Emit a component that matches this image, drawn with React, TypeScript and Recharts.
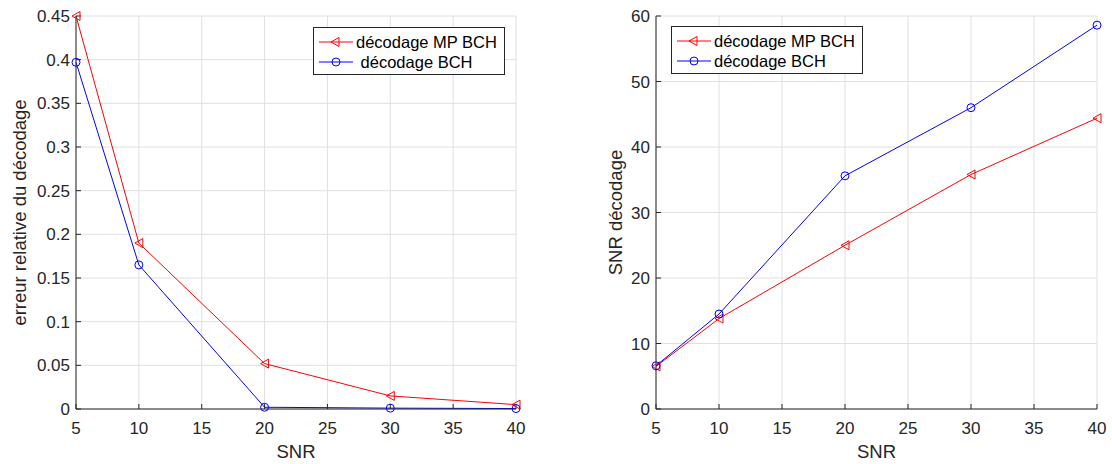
import { LineChart, Line, XAxis, YAxis, CartesianGrid, Legend } from 'recharts'

const snr = [5, 10, 20, 30, 40]
const erreurMpBch = [0.45, 0.19, 0.052, 0.015, 0.005]
const erreurBch = [0.397, 0.165, 0.002, 0.001, 0.0005]
const snrDecodageMpBch = [6.5, 13.8, 25.0, 35.8, 44.4]
const snrDecodageBch = [6.6, 14.5, 35.6, 46.0, 58.6]

const xTicks = [5, 10, 15, 20, 25, 30, 35, 40]
const erreurTicks = [0, 0.05, 0.1, 0.15, 0.2, 0.25, 0.3, 0.35, 0.4, 0.45]
const snrDecodageTicks = [0, 10, 20, 30, 40, 50, 60]

const seriesNames = ['décodage MP BCH', 'décodage BCH']

const FONT = '"Liberation Sans", Arial, Helvetica, sans-serif'
const AXIS = '#262626'
const RED = '#ff0000'
const BLUE = '#0000ff'

const erreurData = snr.map((x, i) => ({ snr: x, mpBch: erreurMpBch[i], bch: erreurBch[i] }))
const snrData = snr.map((x, i) => ({ snr: x, mpBch: snrDecodageMpBch[i], bch: snrDecodageBch[i] }))

const TriangleDot = (props: any) => {
  const { cx, cy, index } = props
  if (cx == null || cy == null) return <g key={index} />
  return (
    <polygon
      key={index}
      points={`${cx - 4},${cy} ${cx + 4},${cy - 4.5} ${cx + 4},${cy + 4.5}`}
      fill="none"
      stroke={RED}
      strokeWidth={1}
    />
  )
}

const CircleDot = (props: any) => {
  const { cx, cy, index } = props
  if (cx == null || cy == null) return <g key={index} />
  return <circle key={index} cx={cx} cy={cy} r={4} fill="none" stroke={BLUE} strokeWidth={1} />
}

const noLabel = () => <g />

// boxed legend drawn inside the plot, MATLAB style
const BoxLegend = ({ secondPad }: { secondPad: string }) => (
  <div
    style={{
      border: `1px solid ${AXIS}`,
      background: '#fff',
      paddingTop: 4,
      paddingBottom: 2,
      paddingRight: 7,
      fontFamily: FONT,
      fontSize: 16.5,
      color: '#000',
      display: 'inline-block',
    }}
  >
    {[0, 1].map((i) => (
      <div key={i} style={{ display: 'flex', alignItems: 'center', height: 20, whiteSpace: 'pre' }}>
        <svg width={42} height={20} style={{ flex: 'none' }}>
          <line x1={5} x2={39} y1={10} y2={10} stroke={i === 0 ? RED : BLUE} strokeWidth={1} />
          {i === 0 ? (
            <polygon points="17,10 25,5.5 25,14.5" fill="none" stroke={RED} />
          ) : (
            <circle cx={22} cy={10} r={4} fill="none" stroke={BLUE} />
          )}
        </svg>
        <span>{(i === 1 ? secondPad : '') + seriesNames[i]}</span>
      </div>
    ))}
  </div>
)

const yLabel = (text: string, fromAxis: number) => (props: any) => {
  const vb = props.viewBox
  const x = vb.x + vb.width - fromAxis
  const y = vb.y + vb.height / 2
  return (
    <text
      x={x}
      y={y}
      transform={`rotate(-90 ${x} ${y})`}
      textAnchor="middle"
      dominantBaseline="central"
      fill={AXIS}
      fontSize={18.5}
      fontFamily={FONT}
    >
      {text}
    </text>
  )
}

interface PanelProps {
  data: { snr: number; mpBch: number; bch: number }[]
  yTicks: number[]
  yDomain: [number, number]
  yTitle: string
  titleFromAxis: number
  marginLeft: number
  marginRight: number
  legendLeft: number
  legendTop: number
  secondPad: string
}

function Panel(p: PanelProps) {
  const tickStyle = { fill: AXIS, fontSize: 17, fontFamily: FONT }
  return (
    <LineChart
      width={556}
      height={464}
      data={p.data}
      margin={{ top: 16, right: p.marginRight, bottom: 5, left: p.marginLeft }}
    >
      <CartesianGrid stroke="#e0e0e0" />
      <XAxis
        dataKey="snr"
        type="number"
        domain={[5, 40]}
        ticks={xTicks}
        interval={0}
        height={50}
        stroke={AXIS}
        tickSize={-5}
        tickMargin={18}
        tick={tickStyle}
        label={{ value: 'SNR', position: 'insideBottom', offset: 1, fill: AXIS, fontSize: 18.5, fontFamily: FONT }}
      />
      <XAxis
        xAxisId="top"
        orientation="top"
        dataKey="snr"
        type="number"
        domain={[5, 40]}
        ticks={xTicks}
        height={0}
        stroke={AXIS}
        tickSize={-5}
        tick={noLabel}
      />
      <YAxis
        type="number"
        domain={p.yDomain}
        ticks={p.yTicks}
        interval={0}
        width={60}
        stroke={AXIS}
        tickSize={-5}
        tickMargin={11}
        tick={tickStyle}
        label={{ content: yLabel(p.yTitle, p.titleFromAxis) }}
      />
      <YAxis
        yAxisId="right"
        orientation="right"
        type="number"
        domain={p.yDomain}
        ticks={p.yTicks}
        width={0}
        stroke={AXIS}
        tickSize={-5}
        tick={noLabel}
      />
      <Legend
        layout="horizontal"
        verticalAlign="middle"
        align="center"
        wrapperStyle={{ left: p.legendLeft, top: p.legendTop, width: 'auto' }}
        content={() => <BoxLegend secondPad={p.secondPad} />}
      />
      <Line
        dataKey="mpBch"
        name={seriesNames[0]}
        stroke={RED}
        strokeWidth={1}
        dot={TriangleDot}
        activeDot={false}
        isAnimationActive={false}
      />
      <Line
        dataKey="bch"
        name={seriesNames[1]}
        stroke={BLUE}
        strokeWidth={1}
        dot={CircleDot}
        activeDot={false}
        isAnimationActive={false}
      />
    </LineChart>
  )
}

export default function App() {
  return (
    <div style={{ position: 'absolute', left: 0, top: 0, width: 1112, height: 464, background: '#fff', display: 'flex' }}>
      <Panel
        data={erreurData}
        yTicks={erreurTicks}
        yDomain={[0, 0.45]}
        yTitle="erreur relative du décodage"
        titleFromAxis={57}
        marginLeft={16}
        marginRight={40}
        legendLeft={313}
        legendTop={27}
        secondPad=" "
      />
      <Panel
        data={snrData}
        yTicks={snrDecodageTicks}
        yDomain={[0, 60]}
        yTitle="SNR décodage"
        titleFromAxis={41}
        marginLeft={40}
        marginRight={15}
        legendLeft={115}
        legendTop={26}
        secondPad=""
      />
    </div>
  )
}
